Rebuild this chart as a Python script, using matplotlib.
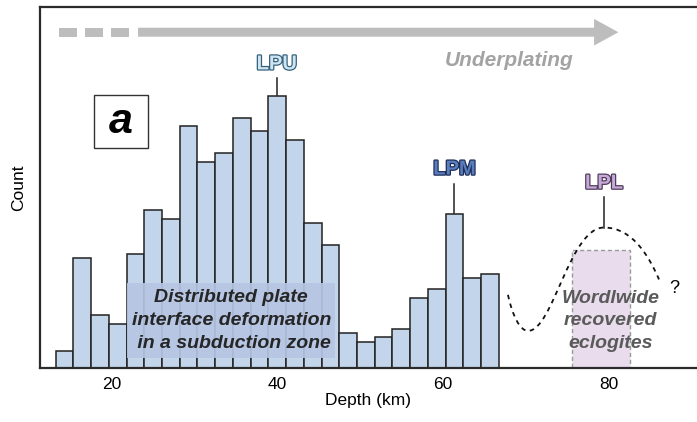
import numpy as np
import matplotlib
matplotlib.use("Agg")
import matplotlib.pyplot as plt
import matplotlib.patheffects as pe
from matplotlib.patches import Rectangle, FancyArrow, PathPatch
from matplotlib.path import Path

plt.rcParams['font.family'] = ['Liberation Sans', 'DejaVu Sans']

# histogram data (depth bins in km, counts)
bin_start = 13.24
bin_width = 2.14
counts = [4, 25, 12, 10, 26, 36, 34, 55, 47, 49, 57, 54, 62, 52, 33, 28,
          8, 6, 7, 9, 16, 18, 35, 20.5, 21.5]
xticks = [20, 40, 60, 80]

# peak labels: name, x, label y, line top, line bottom, fill, outline
peaks = [
    ("LPU", 39.94, 69.2, 66.0, 62.1, '#cfe5f2', '#35617c'),
    ("LPM", 61.40, 45.3, 41.9, 35.2, '#5a7dbf', '#1f2f55'),
    ("LPL", 79.46, 42.1, 38.9, 32.0, '#c9a9d9', '#4d3f5a'),
]

fig = plt.figure(figsize=(6.97, 4.22), dpi=100)
ax = fig.add_axes([0.0567, 0.1273, 0.9433, 0.8568])

x = bin_start + bin_width * np.arange(len(counts))
ax.bar(x, counts, width=bin_width, align='edge', color='#c3d5ea',
       edgecolor='#222222', linewidth=1.1, zorder=2)

ax.set_xlim(11.28, 90.69)
ax.set_ylim(0, 82.2)
ax.set_xticks(xticks)
ax.set_yticks([])
ax.tick_params(axis='x', direction='in', length=5, width=1, labelsize=12.5, pad=6)
for s in ['left', 'top', 'bottom']:
    ax.spines[s].set_linewidth(1.6)
    ax.spines[s].set_color('#2b2b2b')
ax.spines['right'].set_visible(False)
ax.set_xlabel('Depth (km)', fontsize=12.5, labelpad=1)
ax.set_ylabel('Count', fontsize=12.5, labelpad=10)

# underplating arrow
gray = '#bdbdbd'
for d0, d1 in [(13.67, 15.84), (16.81, 18.99), (19.92, 22.09)]:
    ax.add_patch(Rectangle((d0, 75.38), d1 - d0, 2.04, color=gray, lw=0, zorder=3))
ax.add_patch(FancyArrow(23.18, 76.4, 81.2 - 23.18, 0, width=2.04,
                        head_width=6.06, head_length=2.94,
                        length_includes_head=True, color=gray, lw=0, zorder=3))
ax.text(68.0, 70.0, 'Underplating', fontsize=15, fontweight='bold',
        style='italic', color='#a3a3a3', ha='center', va='center')

# panel letter
ax.add_patch(Rectangle((17.87, 50.07), 24.40 - 17.87, 62.1 - 50.07,
                       facecolor='white', edgecolor='#333333', lw=1.0, zorder=3))
ax.text(21.13, 56.1, 'a', fontsize=31, fontweight='bold', style='italic',
        ha='center', va='center', zorder=4)

# distributed deformation box
ax.add_patch(Rectangle((21.88, 2.27), 46.97 - 21.88, 19.45 - 2.27,
                       facecolor='#b5c5e3', edgecolor='none', alpha=0.92, zorder=4))
ax.text(34.43, 10.9, 'Distributed plate\ninterface deformation\n in a subduction zone',
        fontsize=14, fontweight='bold', style='italic', color='#262626',
        ha='center', va='center', linespacing=1.45, zorder=5)

# eclogites box
ax.add_patch(Rectangle((75.56, 0), 82.6 - 75.56, 26.9, facecolor='#e8dced',
                       edgecolor='#9a9a9a', lw=1.0, ls=(0, (3, 2)), zorder=2))
ax.text(80.24, 10.75, 'Wordlwide\nrecovered\neclogites', fontsize=14,
        fontweight='bold', style='italic', color='#5a5a5a',
        ha='center', va='center', linespacing=1.45, zorder=5)

# hypothetical LPL peak curve
verts = [(67.86, 16.7), (68.4, 12.0), (69.3, 8.5), (70.28, 8.5),
         (73.3, 8.5), (75.3, 32.0), (79.45, 32.0),
         (83.0, 32.0), (85.0, 25.0), (86.1, 20.2)]
codes = [Path.MOVETO] + [Path.CURVE4] * 9
ax.add_patch(PathPatch(Path(verts, codes), facecolor='none', edgecolor='#111111',
                       lw=1.3, ls=(0, (2.5, 2.5)), zorder=3))
ax.text(87.96, 18.25, '?', fontsize=13, ha='center', va='center')

# peak labels
for name, px, ly, l0, l1, fc, ec in peaks:
    ax.plot([px, px], [l0, l1], color='#222222', lw=1.1, zorder=3)
    ax.text(px, ly, name, fontsize=14.5, fontweight='bold', color=fc,
            ha='center', va='center',
            path_effects=[pe.withStroke(linewidth=1.8, foreground=ec)])

fig.savefig('out.png', dpi=100)
